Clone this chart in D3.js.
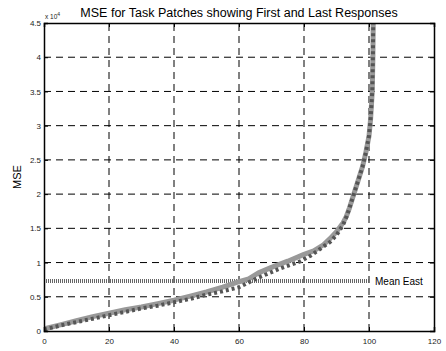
<!DOCTYPE html>
<html><head><meta charset="utf-8">
<script src="https://cdn.jsdelivr.net/npm/d3@7"></script>
<style>body{margin:0;background:#fff}svg{display:block}text{font-family:Arial,"Liberation Sans",sans-serif}</style>
</head><body><svg id="c" width="446" height="351"></svg>
<script>
// Data (MSE in units of 1e4)
const firstX = [0,5,10,15,20,25,30,35,40,45,50,55,60,63,66,70,75,80,83,86,88,90,92,93,94,95,96,97,98,99,100,100.5,101,101.2,101.3];
const firstY = [0.03,0.09,0.15,0.21,0.26,0.31,0.35,0.40,0.45,0.51,0.57,0.64,0.72,0.76,0.85,0.93,1.02,1.12,1.17,1.26,1.35,1.45,1.58,1.67,1.80,1.95,2.10,2.25,2.40,2.60,2.85,3.10,3.50,4.00,4.50];
const lastX = [0,5,10,15,20,25,30,35,40,45,50,55,60,63,66,70,73,76,79,82,85,88,90,92,93,94,95,96,97,98,99,100,100.5,101,101.2,101.3];
const lastY = [0.02,0.08,0.13,0.18,0.23,0.28,0.33,0.37,0.42,0.47,0.53,0.58,0.64,0.71,0.78,0.86,0.92,0.97,1.02,1.10,1.20,1.30,1.40,1.55,1.66,1.80,1.95,2.10,2.25,2.40,2.60,2.85,3.10,3.50,4.00,4.50];
const meanEast = 0.73;
const meanLabel = "Mean East";
const xTicks = [0,20,40,60,80,100,120];
const yTicks = [0,0.5,1,1.5,2,2.5,3,3.5,4,4.5];
const title = "MSE for Task Patches showing First and Last Responses";

const svg = d3.select("#c");
const L=44,R=434,T=23,B=331;
const x = d3.scaleLinear().domain([0,120]).range([L,R]);
const y = d3.scaleLinear().domain([0,4.5]).range([B,T]);

// grid
const g = svg.append("g");
g.selectAll(".gx").data(xTicks.filter(d=>d>0&&d<120)).enter().append("line")
  .attr("x1",d=>x(d)).attr("x2",d=>x(d)).attr("y1",B).attr("y2",T)
  .attr("stroke","#000").attr("stroke-width",1).attr("stroke-dasharray","7,5");
g.selectAll(".gy").data(yTicks.filter(d=>d>0&&d<4.5)).enter().append("line")
  .attr("y1",d=>y(d)).attr("y2",d=>y(d)).attr("x1",L).attr("x2",R)
  .attr("stroke","#000").attr("stroke-width",1).attr("stroke-dasharray","7,5");

svg.append("clipPath").attr("id","cp").append("rect").attr("x",L).attr("y",T-1).attr("width",R-L).attr("height",B-T+1);

// mean line
svg.append("line").attr("x1",x(0)).attr("x2",x(100)).attr("y1",y(meanEast)).attr("y2",y(meanEast))
  .attr("stroke","#666").attr("stroke-width",4).attr("stroke-dasharray","1,1");
svg.append("text").attr("x",x(100)+6).attr("y",y(meanEast)+3.5).attr("font-size",10).attr("fill","#000").text(meanLabel);

const line = d3.line().x(d=>x(d[0])).y(d=>y(d[1]));
svg.append("path").datum(firstX.map((d,i)=>[d,firstY[i]])).attr("d",line).attr("clip-path","url(#cp)")
  .attr("fill","none").attr("stroke","#999").attr("stroke-width",5).attr("stroke-linejoin","round");
svg.append("path").datum(lastX.map((d,i)=>[d,lastY[i]])).attr("d",line).attr("clip-path","url(#cp)")
  .attr("fill","none").attr("stroke","#555").attr("stroke-width",4).attr("stroke-dasharray","3,3");

// axes
svg.append("g").attr("transform",`translate(0,${B})`)
  .call(d3.axisBottom(x).tickValues(xTicks).tickSize(-4).tickPadding(7));
svg.append("g").attr("transform",`translate(${L},0)`)
  .call(d3.axisLeft(y).tickValues(yTicks).tickSize(-4).tickPadding(3).tickFormat(d=>d3.format("~g")(d)));
svg.append("g").attr("transform",`translate(0,${T})`).call(d3.axisTop(x).tickValues(xTicks).tickSize(-4).tickFormat(""));
svg.append("g").attr("transform",`translate(${R},0)`).call(d3.axisRight(y).tickValues(yTicks).tickSize(-4).tickFormat(""));
svg.selectAll(".domain").attr("stroke","#000").attr("stroke-width",1.5);
svg.selectAll(".tick line").attr("stroke","#000");
svg.selectAll(".tick text").attr("font-size",8).attr("fill","#222").attr("font-family","Arial, 'Liberation Sans', sans-serif");

// title and labels
svg.append("text").attr("x",(L+R)/2).attr("y",17).attr("text-anchor","middle").attr("font-size",12.5).text(title);
svg.append("text").attr("transform",`translate(21,${(T+B)/2}) rotate(-90)`).attr("text-anchor","middle").attr("font-size",11).text("MSE");
const ex = svg.append("text").attr("x",45).attr("y",19).attr("font-size",6.5).attr("fill","#222");
ex.append("tspan").text("x 10");
ex.append("tspan").attr("dy",-3).attr("font-size",5).text("4");
</script></body></html>
